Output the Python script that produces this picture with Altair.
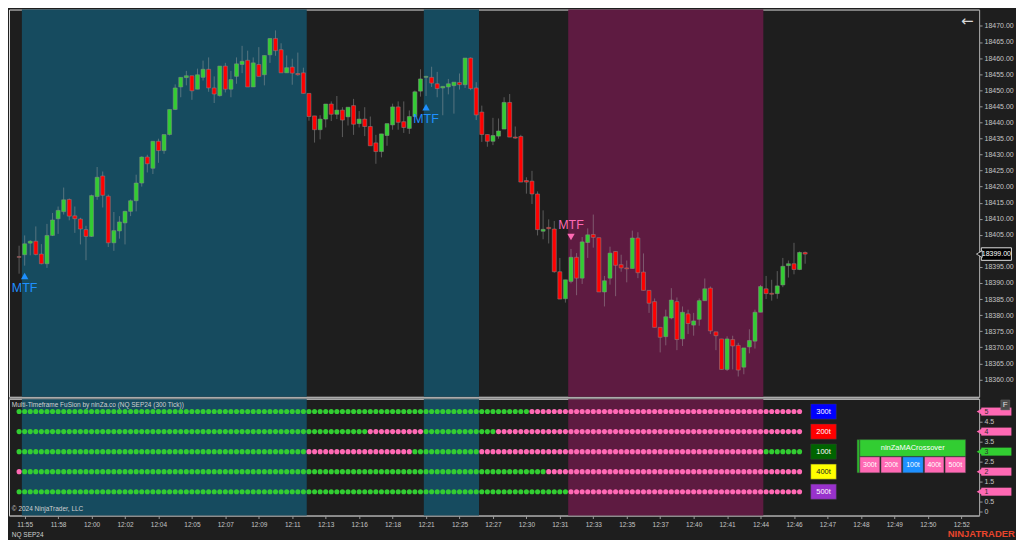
import altair as alt
import pandas as pd

# ---------------- data ----------------
opens = [18398.2, 18398.8, 18402.4, 18403.0, 18399.0, 18396.0, 18404.8, 18410.0, 18412.2, 18416.0,
         18410.9, 18409.9, 18406.6, 18404.5, 18416.9, 18423.3, 18417.0, 18402.5, 18406.2, 18408.7,
         18412.3, 18415.6, 18421.1, 18429.2, 18425.7, 18434.1, 18431.2, 18436.2, 18444.0, 18451.0,
         18453.9, 18454.5, 18450.3, 18454.0, 18456.5, 18450.7, 18448.3, 18457.5, 18450.3, 18454.3,
         18458.0, 18459.3, 18451.0, 18458.0, 18454.8, 18461.0, 18466.1, 18462.6, 18455.4, 18457.2,
         18455.2, 18455.4, 18449.0, 18442.0, 18437.7, 18441.0, 18445.7, 18442.5, 18443.8, 18441.7,
         18445.2, 18439.6, 18441.0, 18438.7, 18433.6, 18430.9, 18435.9, 18439.2, 18444.8, 18440.2,
         18438.1, 18441.8, 18449.7, 18454.0, 18454.0, 18452.0, 18450.7, 18451.0, 18451.4, 18452.4,
         18451.7, 18460.0, 18450.7, 18443.2, 18436.2, 18434.1, 18435.7, 18437.9, 18446.2, 18435.4,
         18435.6, 18421.9, 18421.7, 18417.7, 18406.1, 18407.3, 18406.8, 18393.5, 18385.1, 18390.5,
         18398.0, 18391.5, 18402.6, 18405.1, 18404.1, 18387.2, 18391.5, 18399.8, 18395.7, 18394.7,
         18394.5, 18404.0, 18393.4, 18387.7, 18384.2, 18376.2, 18373.3, 18379.1, 18384.2, 18372.6,
         18380.4, 18376.9, 18378.7, 18384.5, 18388.4, 18374.8, 18372.6, 18363.1, 18372.4, 18370.6,
         18363.8, 18370.1, 18371.9, 18380.9, 18388.2, 18386.8, 18386.7, 18389.4, 18395.4, 18396.0,
         18394.2, 18399.5]
highs = [18401.6, 18404.8, 18403.3, 18407.6, 18402.1, 18408.4, 18411.8, 18413.8, 18419.7, 18416.3,
         18413.8, 18410.3, 18407.8, 18417.5, 18426.1, 18424.7, 18417.5, 18412.1, 18410.8, 18412.5,
         18416.0, 18423.7, 18429.4, 18429.9, 18434.1, 18434.9, 18436.2, 18444.0, 18451.8, 18454.0,
         18456.0, 18454.5, 18456.7, 18459.2, 18460.2, 18454.3, 18457.5, 18458.5, 18456.0, 18460.2,
         18463.8, 18462.3, 18460.2, 18463.4, 18460.8, 18466.1, 18468.6, 18464.6, 18460.8, 18459.8,
         18461.7, 18457.0, 18449.0, 18442.0, 18442.2, 18445.7, 18446.5, 18448.2, 18444.7, 18444.7,
         18447.3, 18443.5, 18444.7, 18441.8, 18436.1, 18436.4, 18439.6, 18445.8, 18446.5, 18446.5,
         18443.7, 18449.9, 18456.5, 18454.5, 18457.3, 18455.7, 18451.2, 18453.5, 18452.5, 18455.2,
         18460.0, 18460.2, 18452.5, 18445.2, 18436.2, 18441.4, 18441.2, 18447.8, 18448.8, 18438.7,
         18436.1, 18422.9, 18424.9, 18418.5, 18412.6, 18409.8, 18409.3, 18397.8, 18391.0, 18400.6,
         18399.3, 18404.3, 18407.0, 18411.3, 18404.1, 18392.2, 18401.3, 18399.8, 18398.8, 18397.0,
         18406.3, 18405.8, 18399.2, 18387.7, 18385.2, 18376.2, 18381.7, 18388.4, 18385.5, 18382.7,
         18381.7, 18380.7, 18385.2, 18391.4, 18388.9, 18374.8, 18372.6, 18373.4, 18373.6, 18371.4,
         18369.8, 18375.6, 18381.7, 18389.4, 18392.2, 18391.0, 18393.7, 18397.8, 18397.0, 18402.5,
         18399.8, 18399.8]
lows = [18392.9, 18395.4, 18398.6, 18398.6, 18395.8, 18394.7, 18404.6, 18405.3, 18411.3, 18409.5,
        18405.6, 18402.0, 18397.1, 18404.3, 18415.9, 18413.5, 18401.2, 18400.0, 18403.8, 18402.0,
        18410.8, 18412.3, 18420.0, 18424.4, 18423.9, 18427.4, 18430.2, 18435.9, 18443.8, 18447.8,
        18451.5, 18447.0, 18450.3, 18453.0, 18449.5, 18446.0, 18448.0, 18449.3, 18447.8, 18452.0,
        18455.3, 18451.0, 18451.0, 18454.3, 18451.5, 18458.5, 18460.7, 18455.4, 18455.4, 18451.7,
        18454.5, 18449.0, 18440.5, 18433.7, 18434.7, 18438.4, 18440.4, 18441.0, 18435.4, 18439.0,
        18436.1, 18438.4, 18435.7, 18432.7, 18427.1, 18429.1, 18432.7, 18437.7, 18437.7, 18436.7,
        18436.4, 18441.8, 18448.0, 18448.2, 18451.0, 18447.8, 18442.2, 18448.7, 18442.7, 18450.2,
        18450.7, 18450.0, 18440.7, 18433.9, 18432.4, 18432.9, 18434.9, 18437.9, 18435.4, 18434.9,
        18421.4, 18417.8, 18414.6, 18404.8, 18403.6, 18402.3, 18393.2, 18385.0, 18383.9, 18389.9,
        18386.2, 18389.7, 18397.8, 18401.0, 18387.2, 18382.7, 18389.5, 18385.9, 18393.5, 18390.2,
        18394.5, 18391.5, 18387.7, 18380.7, 18376.2, 18368.4, 18370.6, 18378.7, 18369.1, 18370.4,
        18374.1, 18373.6, 18376.7, 18384.5, 18374.1, 18369.1, 18363.1, 18362.6, 18363.1, 18360.9,
        18361.6, 18368.1, 18369.6, 18380.9, 18385.0, 18384.5, 18385.1, 18388.7, 18391.7, 18392.7,
        18394.0, 18396.0]
closes = [18398.0, 18402.2, 18403.0, 18398.9, 18396.0, 18404.8, 18409.6, 18412.6, 18415.9, 18410.8,
          18410.0, 18406.8, 18404.5, 18417.2, 18422.9, 18417.3, 18402.5, 18406.3, 18409.0, 18412.3,
          18415.6, 18421.1, 18429.2, 18427.1, 18434.1, 18431.2, 18436.2, 18444.0, 18450.7, 18454.0,
          18454.5, 18449.8, 18454.8, 18456.5, 18450.7, 18448.8, 18457.5, 18450.3, 18453.3, 18458.2,
          18459.0, 18451.0, 18458.5, 18454.3, 18460.8, 18466.1, 18462.3, 18455.4, 18457.0, 18455.3,
          18454.8, 18449.0, 18441.8, 18437.7, 18441.0, 18445.7, 18442.5, 18443.8, 18440.7, 18444.7,
          18439.4, 18441.0, 18438.7, 18432.7, 18430.9, 18436.4, 18439.6, 18444.8, 18440.0, 18438.4,
          18441.8, 18449.5, 18453.5, 18454.3, 18452.2, 18450.5, 18451.2, 18452.0, 18452.5, 18451.7,
          18460.0, 18450.5, 18442.3, 18436.2, 18434.1, 18435.9, 18437.3, 18446.2, 18435.4, 18435.1,
          18421.4, 18421.4, 18417.7, 18406.6, 18406.7, 18406.9, 18393.5, 18385.0, 18391.0, 18398.0,
          18391.5, 18402.8, 18405.0, 18404.2, 18387.2, 18390.7, 18399.3, 18395.5, 18394.7, 18394.4,
          18404.0, 18393.2, 18387.7, 18383.7, 18376.2, 18373.1, 18379.5, 18384.7, 18372.4, 18380.9,
          18377.4, 18378.2, 18384.5, 18388.2, 18375.1, 18373.6, 18363.1, 18372.6, 18370.4, 18362.9,
          18369.8, 18372.1, 18380.9, 18388.9, 18386.7, 18386.5, 18389.1, 18395.2, 18396.0, 18394.2,
          18399.5, 18399.0]

tick_labels = ["11:55", "11:58", "12:00", "12:02", "12:04", "12:05", "12:07", "12:09", "12:11",
               "12:13", "12:16", "12:18", "12:21", "12:25", "12:27", "12:30", "12:31", "12:33",
               "12:35", "12:37", "12:40", "12:41", "12:44", "12:46", "12:47", "12:48", "12:49",
               "12:50", "12:52"]
tick_bars = list(range(1, 1 + 6 * len(tick_labels), 6))
price_ticks = list(range(18360, 18471, 5))
ind_ticks = [0, 0.5, 1, 1.5, 2, 2.5, 3, 3.5, 4, 4.5, 5]

# background zones (bar-index ranges)
band_start = [0.5, 72.6, 98.5]
band_end = [51.6, 82.5, 133.5]
band_kind = ["bull", "bull", "bear"]

# MTF signals
sig_bar = [1, 73, 99]
sig_dir = ["up", "up", "down"]
sig_arrow_price = [18392.2, 18444.7, 18404.3]
sig_text_price = [18388.3, 18441.1, 18407.9]

# indicator rows: (state, first bar, last bar)
row_names = ["300t", "200t", "100t", "400t", "500t"]
row_levels = [5, 4, 3, 2, 1]
row_segments = {
    "300t": [("up", 0, 91), ("down", 92, 140)],
    "200t": [("up", 0, 62), ("down", 63, 72), ("up", 73, 85), ("down", 86, 140)],
    "100t": [("up", 0, 51), ("down", 52, 70), ("up", 71, 82), ("down", 83, 133), ("up", 134, 140)],
    "400t": [("down", 0, 0), ("up", 1, 94), ("down", 95, 140)],
    "500t": [("up", 0, 98), ("down", 99, 140)],
}
legend_fill = ["#0000FF", "#FF0000", "#006400", "#FFFF00", "#9932CC"]
legend_text = ["#FFFFFF", "#FFFFFF", "#FFFFFF", "#202020", "#FFFFFF"]

cross_title = "ninZaMACrossover"
cross_cells = ["300t", "200t", "100t", "400t", "500t"]
cross_state = ["down", "down", "blue", "down", "down"]

last_price = 18399.00

# ---------------- styling / layout ----------------
FONT = "Liberation Sans"
BG = "#1E1E1E"
GREEN = "#32CD32"
RED = "#FF0000"
PINK = "#FF69B4"
BLUE = "#1E90FF"
TEAL = "#164B5F"
MAROON = "#5E1B41"
AXC = "#9A9A9A"
LBL = "#C4C4C4"

W, H1, H2 = 972, 388, 117
X_DOMAIN = [-1.81, 172.2]
P_DOMAIN = [18354.6, 18475.1]
I_DOMAIN = [-0.19, 5.64]

xs = alt.Scale(domain=X_DOMAIN, nice=False, zero=False, padding=0)
ps = alt.Scale(domain=P_DOMAIN, nice=False, zero=False, padding=0)
iscale = alt.Scale(domain=I_DOMAIN, nice=False, zero=False, padding=0)

pax = alt.Axis(orient="right", values=price_ticks, format=".2f", title=None, grid=False,
               labelExpr="abs(datum.value - %s) < 2 ? '' : datum.label" % last_price,
               labelFontSize=7, labelColor=LBL, labelFont=FONT, tickColor=AXC,
               domainColor=AXC, tickSize=3, labelPadding=2)
lab_js = "[" + ",".join("'" + t + "'" for t in tick_labels) + "]"
xax = alt.Axis(values=tick_bars, labelExpr=lab_js + "[round((datum.value-1)/6)]", title=None,
               grid=False, labelFontSize=6.5, labelColor=LBL, labelFont=FONT, tickColor=AXC,
               domainColor=AXC, tickSize=3, labelPadding=3, labelFlush=False)
iax = alt.Axis(orient="right", values=ind_ticks, format="~g", title=None, grid=False,
               labelExpr="(datum.value >= 1 && datum.value % 1 == 0) ? '' : datum.label",
               labelFontSize=7, labelColor=LBL, labelFont=FONT, tickColor=AXC,
               domainColor=AXC, tickSize=3, labelPadding=2)

# ---------------- tables ----------------
n = len(opens)
candles = pd.DataFrame({"i": list(range(n)), "open": opens, "high": highs, "low": lows, "close": closes})
candles["fill"] = [GREEN if c >= o else RED for o, c in zip(opens, closes)]

bands_df = pd.DataFrame({"b0": band_start, "b1": band_end,
                         "fill": [TEAL if k == "bull" else MAROON for k in band_kind]})

sig_df = pd.DataFrame({
    "i": sig_bar,
    "arrow": sig_arrow_price,
    "tp": sig_text_price,
    "shape": ["triangle-up" if d == "up" else "triangle-down" for d in sig_dir],
    "col": [BLUE if d == "up" else PINK for d in sig_dir],
    "txt": ["MTF"] * len(sig_bar),
})

dots = []
for name, lvl in zip(row_names, row_levels):
    for state, a, b in row_segments[name]:
        for i in range(a, b + 1):
            dots.append({"i": i, "level": lvl, "col": GREEN if state == "up" else PINK})
dots_df = pd.DataFrame(dots)

leg_df = pd.DataFrame({
    "x0": [142.0] * 5, "x1": [146.6] * 5, "xc": [144.3] * 5,
    "y0": [l - 0.38 for l in row_levels], "y1": [l + 0.38 for l in row_levels],
    "level": row_levels, "fill": legend_fill, "tcol": legend_text, "txt": row_names,
})

cell_x0 = [150.8, 154.6, 158.5, 162.4, 166.1]
cell_x1 = [154.4, 158.3, 162.2, 165.9, 169.8]
cross_rects = pd.DataFrame({
    "x0": [150.3, 150.8] + cell_x0,
    "x1": [150.8, 169.8] + cell_x1,
    "y0": [1.94, 2.76] + [1.94] * 5,
    "y1": [3.60, 3.60] + [2.74] * 5,
    "fill": ["#2BB52B", GREEN] + [BLUE if s == "blue" else PINK for s in cross_state],
})
cross_texts = pd.DataFrame({
    "x": [160.3] + [(a + b) / 2 for a, b in zip(cell_x0, cell_x1)],
    "y": [3.18] + [2.34] * 5,
    "txt": [cross_title] + cross_cells,
    "size": [7.5] + [7] * 5,
})

tag_df = pd.DataFrame({
    "x0": [172.6] * 5, "x1": [178.0] * 5, "tip": [172.25] * 5, "xt": [173.5] * 5,
    "level": row_levels, "y0": [l - 0.2 for l in row_levels], "y1": [l + 0.2 for l in row_levels],
    "fill": [GREEN if row_segments[nm][-1][0] == "up" else PINK for nm in row_names],
    "txt": [str(l) for l in row_levels],
})

ptag_df = pd.DataFrame({"x0": [172.6], "x1": [178.0], "tip": [172.25], "xt": [175.3],
                        "p": [last_price], "p0": [last_price - 1.95], "p1": [last_price + 1.95],
                        "txt": [f"{last_price:.2f}"]})

misc_price = pd.DataFrame({"i": [170.1], "p": [18471.5], "txt": ["\u2190"]})

info_df = pd.DataFrame({
    "x": [-1.3, -1.3, -1.3],
    "y": [5.35, 0.14, -1.16],
    "txt": ["Multi-Timeframe FuSion by ninZa.co (NQ SEP24 (300 Tick))", "\u00a9 2024 NinjaTrader, LLC", "NQ SEP24"],
})
brand_df = pd.DataFrame({"x": [172.6], "y": [-1.1], "txt": ["NINJATRADER"]})
fbox_df = pd.DataFrame({"x0": [176.1], "x1": [177.7], "y0": [5.08], "y1": [5.58], "xc": [176.9], "yc": [5.33], "txt": ["F"]})

# ---------------- price panel ----------------
def X(field):
    return alt.X(field, scale=xs, axis=None)

p_bands = alt.Chart(bands_df).mark_rect().encode(
    x=X("b0:Q"), x2="b1:Q", color=alt.Color("fill:N", scale=None))

p_wicks = alt.Chart(candles).mark_rule(color="#A8A8A8", opacity=0.45, strokeWidth=1).encode(
    x=X("i:Q"), y=alt.Y("low:Q", scale=ps, axis=pax), y2="high:Q")

p_bodies = alt.Chart(candles).mark_bar(size=4, stroke="#8C8C8C", strokeWidth=0.5).encode(
    x=X("i:Q"), y=alt.Y("open:Q", scale=ps, axis=pax), y2="close:Q",
    color=alt.Color("fill:N", scale=None))

p_arrows = alt.Chart(sig_df).mark_point(filled=True, size=55, opacity=1).encode(
    x=X("i:Q"), y=alt.Y("arrow:Q", scale=ps, axis=pax),
    shape=alt.Shape("shape:N", scale=None), color=alt.Color("col:N", scale=None))

p_sigtext = alt.Chart(sig_df).mark_text(fontSize=12.5, font=FONT, align="center", baseline="middle").encode(
    x=X("i:Q"), y=alt.Y("tp:Q", scale=ps, axis=pax), text="txt:N", color=alt.Color("col:N", scale=None))

p_tag_rect = alt.Chart(ptag_df).mark_rect(fill="#000000", stroke="#E0E0E0", strokeWidth=1).encode(
    x=X("x0:Q"), x2="x1:Q", y=alt.Y("p0:Q", scale=ps, axis=pax), y2="p1:Q")
p_tag_tip = alt.Chart(ptag_df).mark_point(shape="triangle-left", filled=True, size=45,
                                          color="#000000", stroke="#E0E0E0", strokeWidth=0.8, opacity=1).encode(
    x=X("tip:Q"), y=alt.Y("p:Q", scale=ps, axis=pax))
p_tag_txt = alt.Chart(ptag_df).mark_text(fontSize=7, font=FONT, color="#FFFFFF", align="center", baseline="middle").encode(
    x=X("xt:Q"), y=alt.Y("p:Q", scale=ps, axis=pax), text="txt:N")

p_misc = alt.Chart(misc_price).mark_text(fontSize=15, font="DejaVu Sans", color="#D8D8D8", align="center", baseline="middle").encode(
    x=X("i:Q"), y=alt.Y("p:Q", scale=ps, axis=pax), text="txt:N")

price = alt.layer(p_bands, p_wicks, p_bodies, p_arrows, p_sigtext, p_tag_rect, p_tag_tip, p_tag_txt, p_misc).properties(
    width=W, height=H1)

# ---------------- indicator panel ----------------
def XI(field):
    return alt.X(field, scale=xs, axis=xax)

def YI(field):
    return alt.Y(field, scale=iscale, axis=iax)

i_bands = alt.Chart(bands_df).mark_rect().encode(
    x=XI("b0:Q"), x2="b1:Q", color=alt.Color("fill:N", scale=None))

i_sep = alt.Chart(bands_df.head(1)).mark_rule(color="#A0A0A0", strokeWidth=1).encode(
    x=alt.value(0), x2=alt.value(W), y=alt.value(0))

i_dots = alt.Chart(dots_df).mark_circle(size=26, opacity=1).encode(
    x=XI("i:Q"), y=YI("level:Q"), color=alt.Color("col:N", scale=None))

i_leg = alt.Chart(leg_df).mark_rect(stroke="#3A3A3A", strokeWidth=0.5).encode(
    x=XI("x0:Q"), x2="x1:Q", y=YI("y0:Q"), y2="y1:Q", color=alt.Color("fill:N", scale=None))
i_leg_t = alt.Chart(leg_df).mark_text(fontSize=7.5, font=FONT, align="center", baseline="middle").encode(
    x=XI("xc:Q"), y=YI("level:Q"), text="txt:N", color=alt.Color("tcol:N", scale=None))

i_cross = alt.Chart(cross_rects).mark_rect(stroke="#3A3A3A", strokeWidth=0.5).encode(
    x=XI("x0:Q"), x2="x1:Q", y=YI("y0:Q"), y2="y1:Q", color=alt.Color("fill:N", scale=None))
i_cross_t = alt.Chart(cross_texts).mark_text(font=FONT, color="#FFFFFF", align="center", baseline="middle").encode(
    x=XI("x:Q"), y=YI("y:Q"), text="txt:N", size=alt.Size("size:Q", scale=None))

i_tag = alt.Chart(tag_df).mark_rect().encode(
    x=XI("x0:Q"), x2="x1:Q", y=YI("y0:Q"), y2="y1:Q", color=alt.Color("fill:N", scale=None))
i_tag_tip = alt.Chart(tag_df).mark_point(shape="triangle-left", filled=True, size=40, opacity=1).encode(
    x=XI("tip:Q"), y=YI("level:Q"), color=alt.Color("fill:N", scale=None))
i_tag_t = alt.Chart(tag_df).mark_text(fontSize=7, font=FONT, color="#303030", align="center", baseline="middle").encode(
    x=XI("xt:Q"), y=YI("level:Q"), text="txt:N")

i_fbox = alt.Chart(fbox_df).mark_rect(fill="#4A4A4A", stroke="#6A6A6A", strokeWidth=0.5).encode(
    x=XI("x0:Q"), x2="x1:Q", y=YI("y0:Q"), y2="y1:Q")
i_fbox_t = alt.Chart(fbox_df).mark_text(fontSize=8, font=FONT, color="#E0E0E0", align="center", baseline="middle").encode(
    x=XI("xc:Q"), y=YI("yc:Q"), text="txt:N")

i_info = alt.Chart(info_df).mark_text(fontSize=6.5, font=FONT, color="#D0D0D0", align="left", baseline="middle").encode(
    x=XI("x:Q"), y=YI("y:Q"), text="txt:N")
i_brand = alt.Chart(brand_df).mark_text(fontSize=9.5, font=FONT, fontWeight="bold", color="#E8452C",
                                        align="center", baseline="middle").encode(
    x=XI("x:Q"), y=YI("y:Q"), text="txt:N")

indicator = alt.layer(i_bands, i_sep, i_dots, i_leg, i_leg_t, i_cross, i_cross_t, i_tag, i_tag_tip, i_tag_t,
                      i_fbox, i_fbox_t, i_info, i_brand).properties(width=W, height=H2)

chart = alt.vconcat(price, indicator, spacing=0).resolve_scale(
    x="independent", y="independent", color="independent", shape="independent", size="independent"
).properties(background=BG, padding=0).configure_view(stroke="transparent").configure(font=FONT)

chart.save("out.html", embed_options={"renderer": "svg", "actions": False})
